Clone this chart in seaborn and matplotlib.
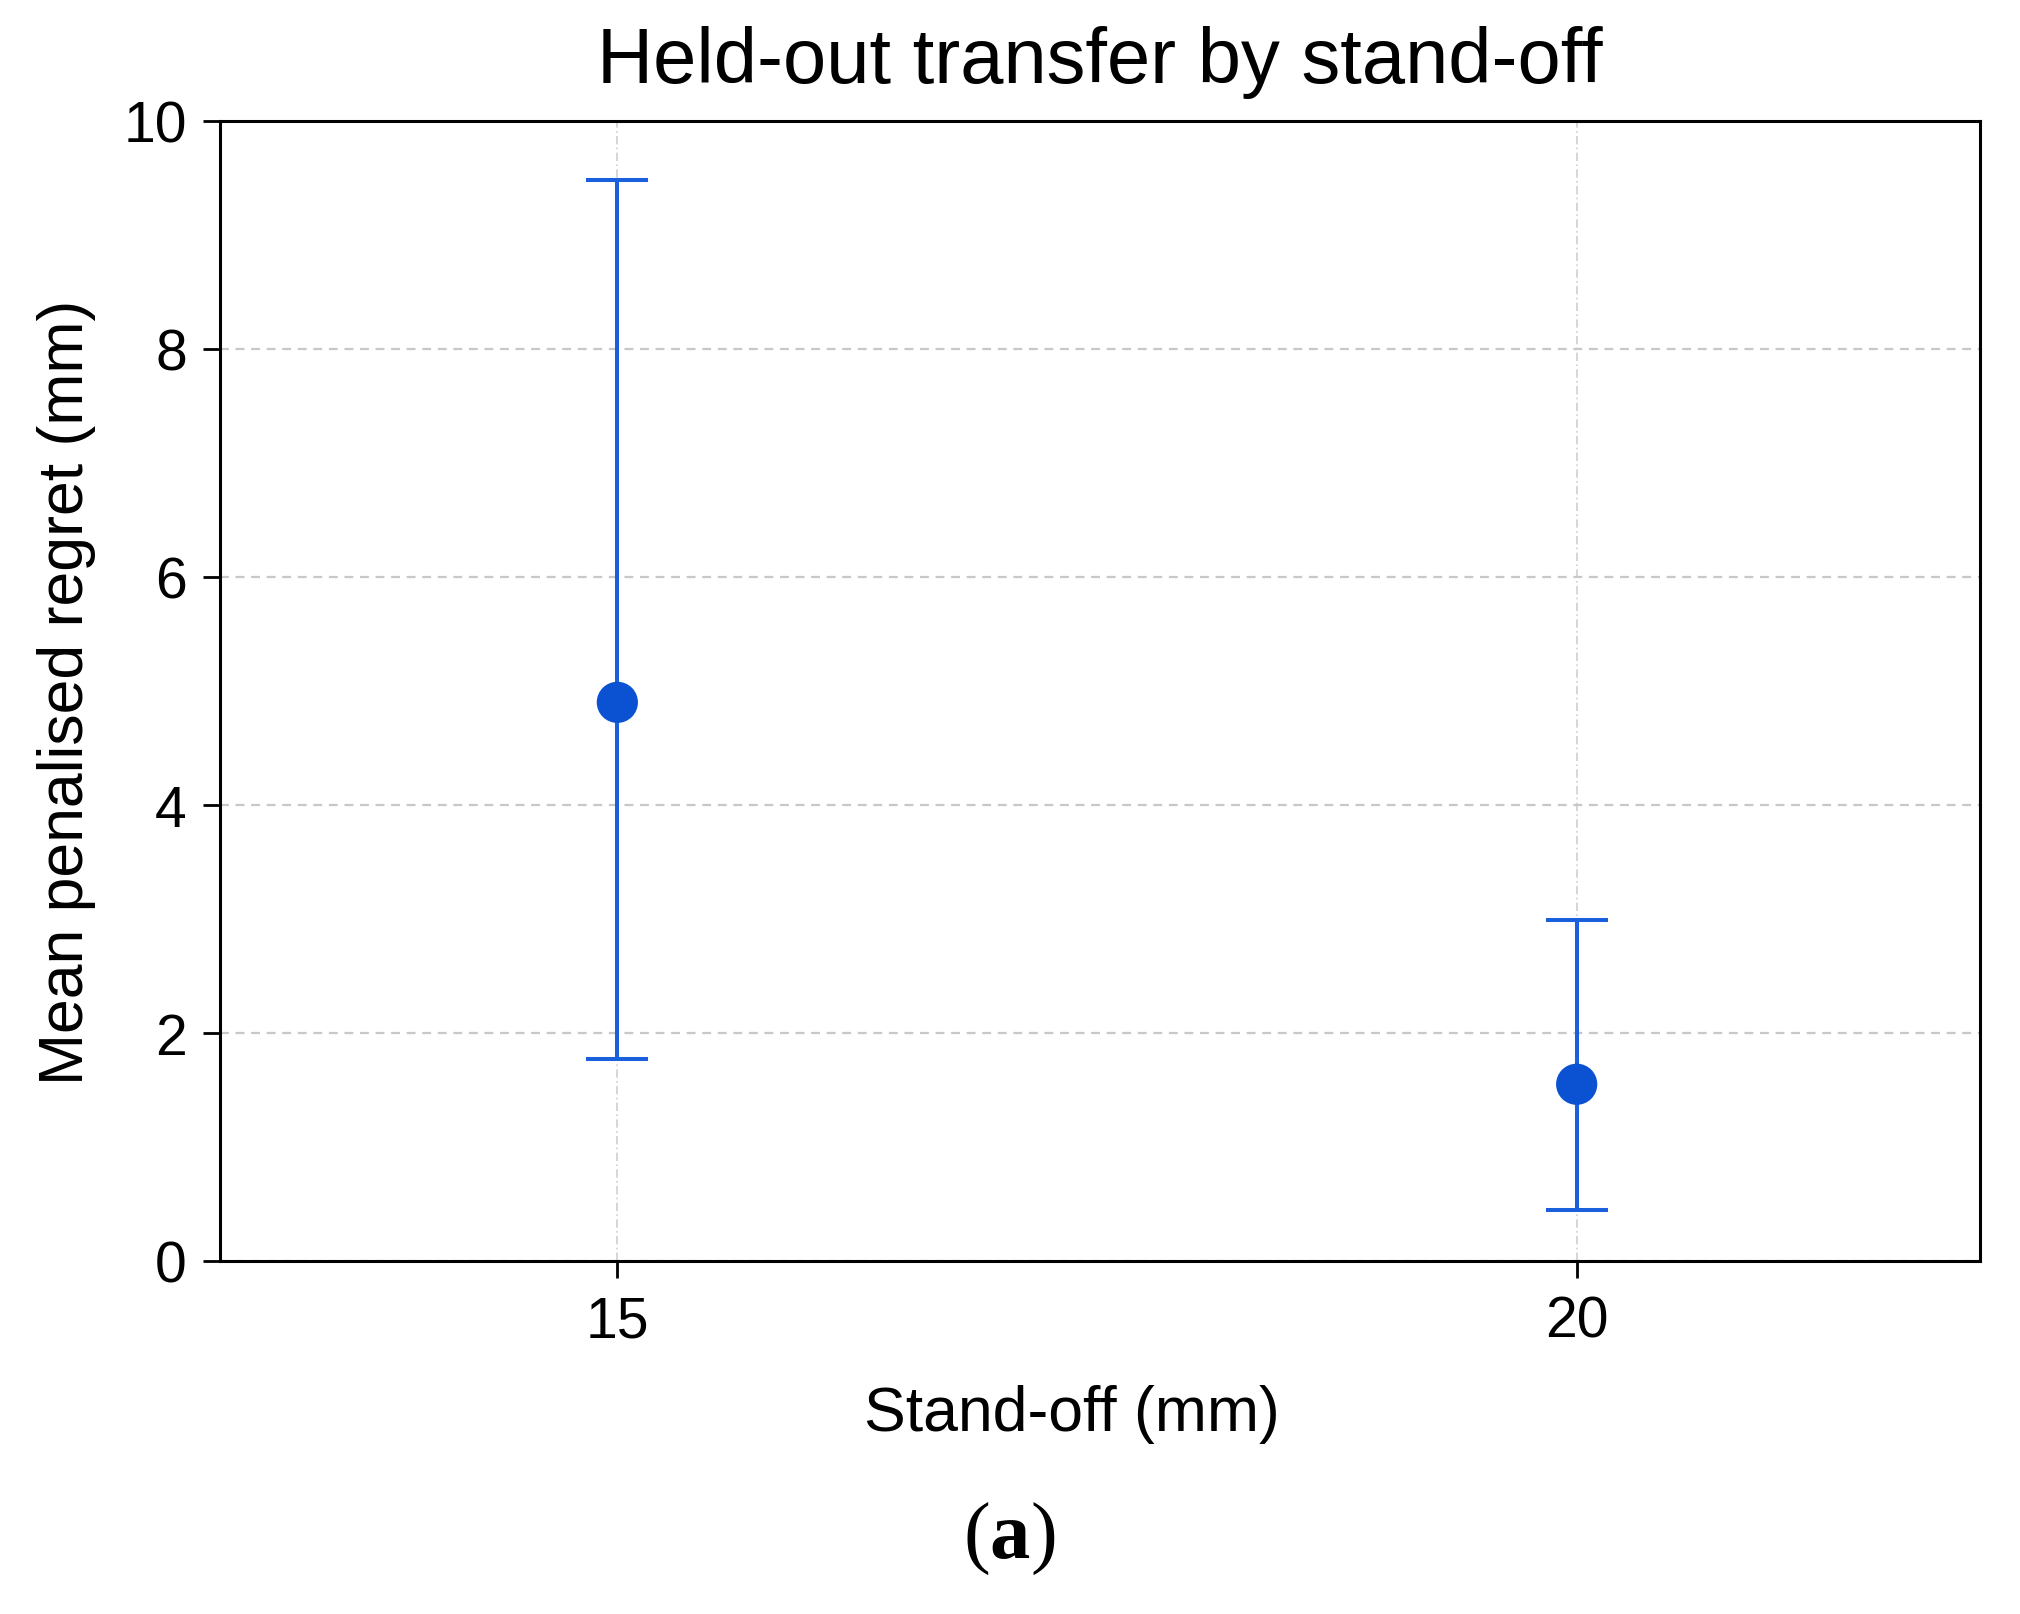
import matplotlib
matplotlib.use("Agg")
import matplotlib.pyplot as plt
import seaborn as sns
import pandas as pd
import numpy as np

# Data
standoff = [15, 20]
mean_regret = [4.90, 1.55]
lower = [1.77, 0.45]
upper = [9.48, 2.99]
xticks = [15, 20]
yticks = [0, 2, 4, 6, 8, 10]

df = pd.DataFrame({"standoff": standoff, "mean": mean_regret,
                   "lower": lower, "upper": upper})

sns.set_theme(style="white")
plt.rcParams['font.family'] = ['Liberation Sans', 'DejaVu Sans']
plt.rcParams['text.color'] = 'black'

fig = plt.figure(figsize=(10.1, 8.075), dpi=200)
ax = fig.add_axes([0.109, 0.2186, 0.871, 0.7059])

err_lo = df["mean"] - df["lower"]
err_hi = df["upper"] - df["mean"]
ax.errorbar(df["standoff"], df["mean"], yerr=[err_lo, err_hi], fmt="none",
            ecolor="#1a5fdc", elinewidth=1.45, capsize=11, capthick=1.45, zorder=3)
sns.scatterplot(data=df, x="standoff", y="mean", ax=ax, s=220, color="#0a52d2",
                edgecolor="none", linewidth=0, zorder=4, legend=False)

ax.set_xlim(12.93, 22.1)
ax.set_ylim(0, 10)
ax.set_xticks(xticks)
ax.set_yticks(yticks)
ax.grid(True, axis="y", linestyle=(0, (4, 3)), color="#c8c8c8", linewidth=0.8)
ax.grid(True, axis="x", linestyle=(0, (5, 2, 1, 2)), color="#d0d0d0", linewidth=0.6)
ax.set_axisbelow(True)
for s in ax.spines.values():
    s.set_visible(True)
    s.set_color("black")
    s.set_linewidth(1.1)
ax.tick_params(axis="both", which="major", direction="out", length=6, width=1.0,
               color="black", labelsize=20.5, labelcolor="black", bottom=True, left=True, pad=6)

ax.set_title("Held-out transfer by stand-off", fontsize=28, pad=14, color="black")
ax.set_xlabel("Stand-off (mm)", fontsize=22.5, color="black")
ax.set_ylabel("Mean penalised regret (mm)", fontsize=22.5, labelpad=10, color="black")
ax.xaxis.set_label_coords(0.484, -0.108)

# "(a)" caption: normal parentheses, bold letter, laid out side by side
serif = ["Liberation Serif", "DejaVu Serif"]
renderer = fig.canvas.get_renderer()
parts = [("(", "normal"), ("a", "bold"), (")", "normal")]
texts = []
for s, w in parts:
    texts.append(fig.text(0, 0.035, s, ha="left", va="baseline", fontsize=29,
                          fontweight=w, family=serif, color="black"))
widths = [t.get_window_extent(renderer).width / fig.bbox.width for t in texts]
x0 = 0.5 - sum(widths) / 2
for t, w in zip(texts, widths):
    t.set_x(x0)
    x0 += w

fig.savefig("out.png", dpi=200, facecolor="white")
